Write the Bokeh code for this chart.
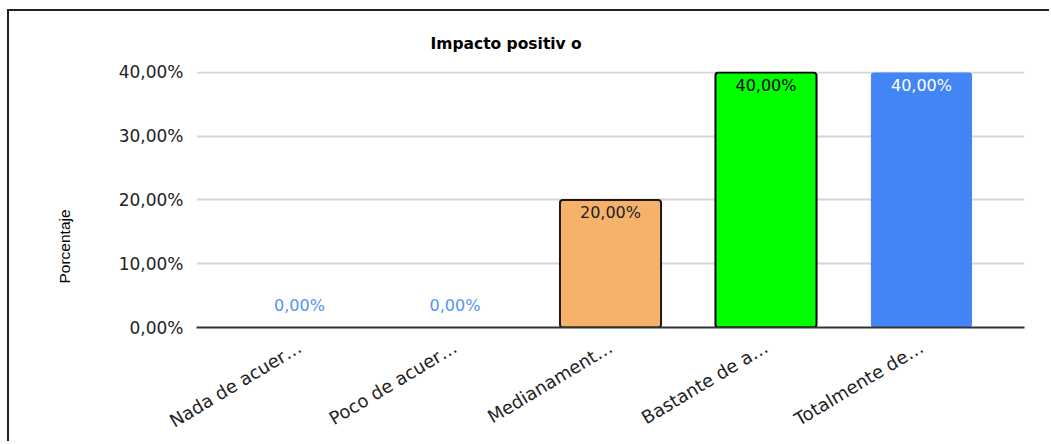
import math
from bokeh.plotting import figure
from bokeh.models import (ColumnDataSource, FactorRange, Range1d, FixedTicker,
                          CustomJSTickFormatter, LabelSet, Title)
from bokeh.core.properties import value
from bokeh.embed import file_html
from bokeh.resources import INLINE

# ---- data ----
categories = ["Nada de acuer…", "Poco de acuer…", "Medianament…", "Bastante de a…", "Totalmente de…"]
values = [0.0, 0.0, 0.20, 0.40, 0.40]
y_ticks = [0.0, 0.1, 0.2, 0.3, 0.4]
title_text = "Impacto positiv o"
y_title = "Porcentaje"

# ---- styles ----
bar_fill = ["#4285f4", "#4285f4", "#f6b26b", "#00ff00", "#4285f4"]
bar_line = ["#000000", "#000000", "#1a1a1a", "#000000", "#4285f4"]
label_color_inside = ["#222222", "#222222", "#222222", "#000000", "#ffffff"]
zero_color = "#5393f5"

labels = [f"{v*100:.2f}".replace(".", ",") + "%" for v in values]
lab_colors = [zero_color if v == 0 else c for v, c in zip(values, label_color_inside)]
lab_offsets = [22 if v == 0 else -13 for v in values]
line_alpha = [0.0 if v == 0 else 1.0 for v in values]
line_width = [0 if v == 0 else (0 if i == 4 else 2) for i, v in enumerate(values)]

src = ColumnDataSource(dict(cat=categories, val=values, fill=bar_fill, line=bar_line,
                            la=line_alpha, lw=line_width, lab=labels,
                            lc=lab_colors, lo=lab_offsets))

FONT = "DejaVu Sans"

p = figure(x_range=FactorRange(factors=categories, range_padding=0.065),
           y_range=Range1d(0, 0.4015),
           width=1042, height=432, output_backend="svg", toolbar_location=None,
           min_border_left=187, min_border_right=27, min_border_top=60,
           min_border_bottom=116)
p.styles = {"border-left": "2px solid #222222", "border-top": "2px solid #222222",
            "margin-left": "7px", "margin-top": "9px"}

p.vbar(x="cat", top="val", width=0.65, source=src, fill_color="fill",
       line_color="line", line_alpha="la", line_width="lw", border_radius=3)

p.add_layout(LabelSet(x="cat", y="val", text="lab", source=src, y_offset="lo",
                      text_align="center", text_baseline="middle",
                      text_color="lc", text_font=value(FONT), text_font_size="16px"))

# title
p.title.text = title_text
p.title.align = "left"
p.title.offset = 234
p.title.text_font = FONT
p.title.text_font_size = "15.5px"
p.title.text_font_style = "bold"
p.title.text_color = "#000000"
p.title.standoff = 38

# axes
p.yaxis.ticker = FixedTicker(ticks=y_ticks)
p.yaxis.formatter = CustomJSTickFormatter(
    code="return (tick*100).toFixed(2).replace('.', ',') + '%';")
p.yaxis.axis_line_color = None
p.yaxis.major_tick_line_color = None
p.yaxis.minor_tick_line_color = None
p.yaxis.major_label_standoff = 7
p.yaxis.major_label_text_font = FONT
p.yaxis.major_label_text_font_size = "17px"
p.yaxis.major_label_text_color = "#222222"

# y axis title, drawn in the left panel and placed lower, as in the reference
p.add_layout(Title(text=y_title, align="left", offset=44, standoff=85,
                   text_font="Liberation Sans", text_font_size="15.5px",
                   text_font_style="normal", text_color="#000000"), "left")

p.xaxis.axis_line_color = "#333333"
p.xaxis.axis_line_width = 2
p.xaxis.major_tick_line_color = None
p.xaxis.minor_tick_line_color = None
p.xaxis.major_label_orientation = 0.54
p.xaxis.major_label_standoff = 12
p.xaxis.major_label_text_font = FONT
p.xaxis.major_label_text_font_size = "18px"
p.xaxis.major_label_text_color = "#222222"

p.xgrid.grid_line_color = None
p.ygrid.grid_line_color = "#d6d6d6"
p.ygrid.grid_line_width = 2
p.outline_line_color = None
p.background_fill_color = "#ffffff"
p.border_fill_color = "#ffffff"

open("out.html", "w").write(file_html(p, INLINE))
